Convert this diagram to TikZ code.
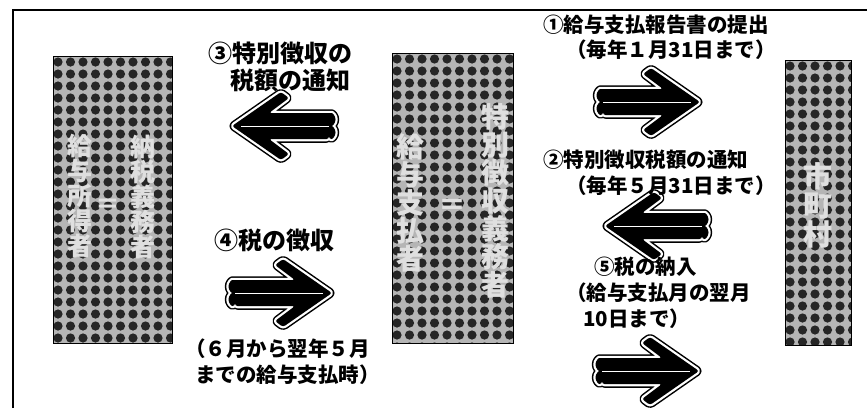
\documentclass[tikz,border=0pt]{standalone}
\usepackage{fontspec}
\newfontfamily\jp{Noto Sans CJK JP}
\begin{document}
\begin{tikzpicture}[x=1pt,y=-1pt,
  lab/.style={font=\jp\bfseries\fontsize{20.5}{26}\selectfont, anchor=west, inner sep=0},
  biglab/.style={font=\jp\bfseries\fontsize{24}{27}\selectfont, anchor=west, inner sep=0},
  vtxt/.style={font=\jp\bfseries\fontsize{#1}{#1}\selectfont, text=gray!25, align=center, inner sep=0},
  vbox/.style={draw=black, line width=0.8},
  apath/.style={insert path={(0,13) -- (60,13) -- (40,28) -- (48,34) -- (97,0) -- (48,-34) -- (40,-28) -- (60,-13) -- (0,-13)
     arc[start angle=-90,end angle=-270,radius=6.5] arc[start angle=-90,end angle=-270,radius=6.5] -- cycle}},
  fatarrow/.pic={
    \path[draw=black, line width=7.5, line join=round, rounded corners=2.5, apath];
    \path[draw=white, line width=4.5, line join=round, rounded corners=2.5, apath];
    \path[fill=black, rounded corners=2.5, apath];
    \draw[white, line width=1] (0,0) -- (88,0);
  }]
\useasboundingbox (0,0) rectangle (867,408);
\fill[white] (0,0) rectangle (867,408);
% frame
\draw[line width=2] (12.5,408) -- (12.5,10) -- (867,10);

% textured boxes
\foreach \xa/\ya/\xb/\yb/\nm in {53/56/172/343/L, 392/53/513/343/M, 785/60/851/345/R}{
  \begin{scope}
    \clip (\xa,\ya) rectangle (\xb,\yb);
    \fill[gray!58] (\xa,\ya) rectangle (\xb,\yb);
    \foreach \i in {0,...,11}{
      \foreach \j in {0,...,25}{
        \fill[black!85] (\xa+5+\i*12.5,\ya+6+\j*12) circle[radius=4.6];
      }
    }
  \end{scope}
  \draw[vbox] (\xa,\ya) rectangle (\xb,\yb);
}
\node[vtxt=25] (tL1) at (143,196.5) {納\\税\\義\\務\\者};
\node[vtxt=25] (tL2) at (80,196.5) {給\\与\\所\\得\\者};
\node[vtxt=25] (tL3) at (108,206) {＝};
\node[vtxt=28] (tM1) at (495,201) {特\\別\\徴\\収\\義\\務\\者};
\node[vtxt=28] (tM2) at (410,203) {給\\与\\支\\払\\者};
\node[vtxt=28] (tM3) at (452,207) {＝};
\node[vtxt=29] (tR) at (818,205) {市\\町\\村};

% arrows
\pic at (603,102) {fatarrow};
\pic[xscale=-1] at (702,226) {fatarrow};
\pic[xscale=-1] at (329,126) {fatarrow};
\pic at (235,293) {fatarrow};
\pic at (602,371) {fatarrow};

% labels
\node[biglab] (l3a) at (208,53) {③特別徴収の};
\node[biglab] (l3b) at (230,80) {税額の通知};
\node[biglab] (l4) at (214,240) {④税の徴収};
\node[lab] (l4a) at (185,349) {（６月から翌年５月};
\node[lab] (l4b) at (195,375) {までの給与支払時）};
\node[lab] (l1a) at (543,25) {①給与支払報告書の提出};
\node[lab] (l1b) at (566,50) {（毎年１月31日まで）};
\node[lab] (l2a) at (543,160) {②特別徴収税額の通知};
\node[lab] (l2b) at (566,186) {（毎年５月31日まで）};
\node[lab] (l5a) at (594,267) {⑤税の納入};
\node[lab] (l5b) at (566,293) {（給与支払月の翌月};
\node[lab] (l5c) at (583,319) {10日まで）};
\end{tikzpicture}
\end{document}
